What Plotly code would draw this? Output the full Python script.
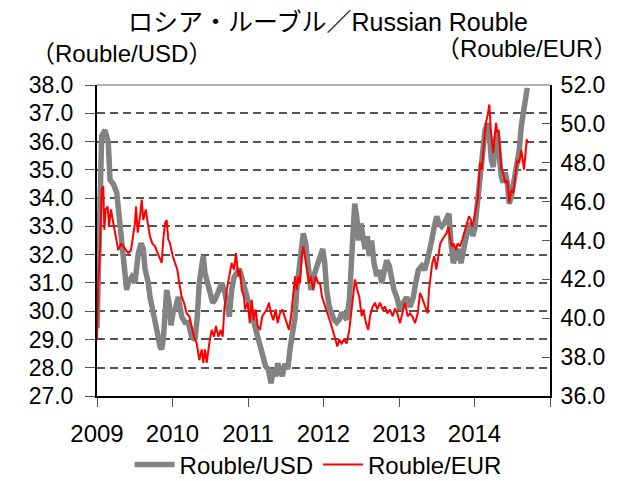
import plotly.graph_objects as go

# Rouble/USD (left axis): offset in years from 2009-01-01, value
usd_t = [0.000, 0.013, 0.040, 0.062, 0.106, 0.150, 0.172, 0.216, 0.261, 0.282,
         0.305, 0.327, 0.371, 0.393, 0.415, 0.460, 0.503, 0.526, 0.547, 0.583,
         0.613, 0.636, 0.679, 0.702, 0.746, 0.791, 0.834, 0.857, 0.878, 0.901,
         0.923, 0.954, 0.980, 1.011, 1.033, 1.077, 1.122, 1.166, 1.209, 1.254,
         1.298, 1.328, 1.355, 1.387, 1.408, 1.430, 1.461, 1.497, 1.532, 1.563,
         1.607, 1.652, 1.695, 1.726, 1.752, 1.784, 1.815, 1.850, 1.885, 1.917,
         1.947, 1.983, 2.004, 2.049, 2.093, 2.136, 2.172, 2.203, 2.234, 2.269,
         2.305, 2.335, 2.367, 2.393, 2.424, 2.454, 2.490, 2.526, 2.556, 2.587,
         2.623, 2.645, 2.675, 2.702, 2.732, 2.764, 2.799, 2.834, 2.865, 2.897,
         2.931, 2.967, 2.989, 3.016, 3.042, 3.077, 3.109, 3.139, 3.175, 3.209,
         3.241, 3.272, 3.307, 3.342, 3.368, 3.395, 3.413, 3.440, 3.466, 3.493,
         3.519, 3.550, 3.580, 3.607, 3.638, 3.669, 3.705, 3.739, 3.771, 3.801,
         3.837, 3.871, 3.903, 3.934, 3.970, 4.013, 4.057, 4.102, 4.146, 4.189,
         4.221, 4.256, 4.301, 4.335, 4.367, 4.397, 4.433, 4.468, 4.499, 4.530,
         4.566, 4.600, 4.632, 4.662, 4.689, 4.719, 4.751, 4.785, 4.821, 4.852,
         4.883, 4.918, 4.954, 4.976, 5.003, 5.029, 5.056, 5.082, 5.109, 5.139,
         5.170, 5.196, 5.223, 5.249, 5.275, 5.302, 5.328, 5.355, 5.381, 5.408,
         5.434, 5.461, 5.487, 5.514, 5.540, 5.567, 5.593, 5.620, 5.646, 5.673,
         5.699]
usd_v = [29.4, 30.8, 33.1, 36.2, 36.4, 35.95, 34.65, 34.5, 34.2, 33.7,
         33.1, 32.5, 31.5, 30.75, 31.0, 31.2, 31.0, 31.6, 32.05, 32.4,
         32.2, 31.5, 31.0, 30.5, 29.8, 29.35, 28.75, 28.65, 29.0, 30.3,
         30.75, 30.3, 29.5, 30.0, 30.05, 30.5, 29.8, 29.6, 29.6, 29.1,
         29.0, 29.8, 31.0, 31.6, 31.95, 31.35, 31.0, 30.65, 30.3, 30.4,
         30.75, 31.0, 30.65, 30.05, 29.8, 30.75, 31.2, 31.35, 31.5, 31.2,
         30.9, 30.5, 30.4, 29.8, 29.35, 28.9, 28.65, 28.3, 28.05, 27.95,
         27.45, 27.95, 27.7, 28.15, 27.95, 27.7, 28.15, 27.95, 28.65, 29.1,
         29.8, 30.75, 31.45, 32.15, 32.75, 32.4, 31.45, 30.75, 31.2, 31.45,
         31.7, 31.95, 32.2, 31.7, 30.75, 30.15, 29.95, 29.7, 29.6, 29.7,
         29.95, 29.8, 29.7, 30.4, 31.45, 33.1, 33.8, 33.35, 32.5, 33.1,
         32.65, 32.2, 32.65, 31.95, 32.5, 31.7, 31.25, 31.45, 31.0, 31.45,
         31.8, 31.6, 31.0, 30.75, 30.5, 30.05, 30.3, 30.5, 30.15, 30.5,
         31.0, 31.45, 31.6, 31.45, 31.7, 32.2, 32.5, 33.0, 33.35, 33.1,
         33.0, 33.1, 33.35, 33.45, 32.4, 31.7, 31.95, 32.2, 31.7, 32.2,
         32.65, 33.0, 33.1, 32.65, 32.9, 33.6, 34.55, 35.35, 35.7, 36.4,
         36.65, 36.3, 35.35, 35.1, 36.05, 36.3, 35.5, 34.75, 34.55, 34.9,
         34.55, 33.8, 34.05, 34.55, 34.9, 35.35, 35.7, 36.55, 37.1, 37.6,
         37.9]

# Rouble/EUR (right axis)
eur_t = [0.000, 0.017, 0.040, 0.062, 0.083, 0.097, 0.115, 0.142, 0.159, 0.185,
         0.216, 0.248, 0.282, 0.318, 0.348, 0.380, 0.415, 0.450, 0.481, 0.503,
         0.517, 0.539, 0.570, 0.592, 0.613, 0.645, 0.672, 0.702, 0.732, 0.768,
         0.804, 0.834, 0.857, 0.878, 0.901, 0.923, 0.944, 0.967, 1.003, 1.033,
         1.064, 1.090, 1.122, 1.152, 1.188, 1.223, 1.254, 1.285, 1.321, 1.355,
         1.387, 1.408, 1.430, 1.453, 1.487, 1.519, 1.550, 1.576, 1.607, 1.638,
         1.665, 1.686, 1.718, 1.752, 1.784, 1.815, 1.841, 1.871, 1.894, 1.917,
         1.947, 1.960, 1.996, 2.023, 2.049, 2.075, 2.102, 2.128, 2.159, 2.189,
         2.216, 2.248, 2.278, 2.305, 2.335, 2.367, 2.393, 2.424, 2.454, 2.481,
         2.513, 2.543, 2.570, 2.600, 2.623, 2.645, 2.666, 2.689, 2.711, 2.732,
         2.755, 2.781, 2.808, 2.834, 2.865, 2.897, 2.931, 2.954, 2.980, 3.007,
         3.033, 3.064, 3.095, 3.122, 3.152, 3.183, 3.209, 3.241, 3.272, 3.307,
         3.342, 3.374, 3.395, 3.417, 3.448, 3.474, 3.506, 3.527, 3.563, 3.593,
         3.616, 3.652, 3.682, 3.713, 3.748, 3.784, 3.815, 3.845, 3.881, 3.916,
         3.947, 3.977, 4.013, 4.044, 4.079, 4.115, 4.146, 4.176, 4.212, 4.248,
         4.278, 4.301, 4.327, 4.354, 4.380, 4.397, 4.415, 4.441, 4.468, 4.494,
         4.521, 4.547, 4.574, 4.600, 4.632, 4.653, 4.675, 4.698, 4.725, 4.751,
         4.777, 4.808, 4.838, 4.865, 4.897, 4.927, 4.954, 4.967, 4.993, 5.020,
         5.046, 5.073, 5.099, 5.126, 5.152, 5.179, 5.196, 5.215, 5.232, 5.249,
         5.268, 5.285, 5.302, 5.320, 5.338, 5.355, 5.381, 5.408, 5.434, 5.461,
         5.487, 5.514, 5.540, 5.567, 5.593, 5.620, 5.638, 5.656, 5.673, 5.692,
         5.709]
eur_v = [38.9, 41.8, 43.5, 46.6, 46.8, 44.55, 45.6, 45.75, 44.7, 45.6,
         44.9, 44.2, 43.5, 43.85, 43.7, 43.5, 43.35, 43.5, 44.2, 44.9,
         45.75, 44.4, 45.25, 46.1, 45.05, 45.6, 44.9, 44.2, 43.85, 43.7,
         43.35, 43.0, 42.85, 44.05, 44.9, 45.05, 44.05, 43.85, 43.2, 42.85,
         42.5, 41.8, 41.1, 40.8, 40.25, 40.1, 39.6, 39.05, 38.7, 37.85,
         38.4, 37.7, 38.4, 37.7, 38.7, 39.4, 39.05, 39.6, 39.05, 39.4,
         39.05, 40.45, 41.45, 42.3, 42.85, 42.5, 43.35, 42.15, 42.5, 41.45,
         41.1, 40.45, 40.8, 39.75, 40.95, 39.9, 40.45, 39.6, 39.4, 40.1,
         40.25, 40.45, 40.8, 40.25, 39.9, 40.45, 39.75, 40.25, 40.45, 40.1,
         39.75, 39.4, 40.1, 41.45, 42.15, 41.45, 42.15, 41.8, 43.2, 43.7,
         43.0, 42.5, 41.8, 42.15, 41.45, 42.15, 41.8, 41.8, 41.1, 40.8,
         40.45, 40.1, 39.75, 39.4, 38.9, 38.55, 38.9, 38.7, 38.9, 38.7,
         39.4, 40.45, 41.45, 42.0, 41.45, 41.1, 40.1, 40.45, 39.75, 39.4,
         40.1, 40.6, 40.8, 40.45, 40.8, 40.45, 40.6, 40.25, 40.45, 40.1,
         40.5, 40.25, 39.75, 40.25, 40.8, 40.1, 40.25, 40.1, 39.75, 40.25,
         41.3, 41.1, 40.8, 40.45, 40.25, 41.45, 42.15, 42.85, 43.2, 42.5,
         43.2, 43.85, 44.05, 44.2, 44.4, 44.7, 44.2, 43.7, 43.85, 43.5,
         43.85, 43.7, 44.05, 44.4, 44.9, 45.25, 45.05, 44.7, 45.05, 45.6,
         46.25, 48.0, 47.65, 49.0, 50.05, 50.55, 51.0, 49.7, 48.85, 48.5,
         49.35, 50.05, 49.55, 49.7, 48.65, 47.65, 47.45, 46.95, 47.1, 45.95,
         46.6, 46.45, 47.3, 48.15, 48.0, 48.65, 48.15, 47.65, 48.35, 49.2,
         49.0]

years = [2009, 2010, 2011, 2012, 2013, 2014, 2015]
year_labels = ["2009", "2010", "2011", "2012", "2013", "2014", ""]
base_year = 2009

FONT = "Liberation Sans, Arial, Noto Sans CJK JP, sans-serif"

fig = go.Figure()
fig.add_trace(go.Scatter(
    x=[base_year + t for t in usd_t], y=usd_v, mode="lines", name="Rouble/USD",
    line=dict(color="#838383", width=5.5), yaxis="y"))
fig.add_trace(go.Scatter(
    x=[base_year + t for t in eur_t], y=eur_v, mode="lines", name="Rouble/EUR",
    line=dict(color="#FF0000", width=2), yaxis="y2"))

# the page body adds an 8px offset at top-left, so the figure is 8px smaller
fig.update_layout(
    width=629, height=473,
    margin=dict(l=89, r=87, t=77, b=85, autoexpand=False),
    paper_bgcolor="white", plot_bgcolor="white",
    font=dict(family=FONT, color="black", size=23),
    showlegend=True,
    legend=dict(orientation="h", xref="container", yref="container",
                x=0.493, xanchor="center", y=0.034, yanchor="middle",
                font=dict(size=24), bgcolor="rgba(0,0,0,0)", itemwidth=40,
                tracegroupgap=0),
    xaxis=dict(range=[2009, 2015], tickmode="array", tickvals=years, ticktext=year_labels,
               ticks="outside", ticklen=9, tickcolor="#555", tickwidth=1,
               ticklabelstandoff=6, automargin=False,
               showline=True, linecolor="black", linewidth=2,
               showgrid=False, zeroline=False, tickfont=dict(size=24)),
    yaxis=dict(range=[27, 38], dtick=1, tickformat=".1f", automargin=False,
               showgrid=True, gridcolor="#555", griddash="8px,5px", gridwidth=1.5,
               showline=True, linecolor="black", linewidth=2,
               ticks="outside", ticklen=10, tickcolor="#555",
               ticklabelstandoff=7,
               zeroline=False, tickfont=dict(size=23)),
    yaxis2=dict(range=[36, 52], dtick=2, tickformat=".1f", overlaying="y", side="right",
                automargin=False,
                showgrid=False, showline=True, linecolor="black", linewidth=2,
                ticks="inside", ticklen=8, tickcolor="#555", ticklabelstandoff=4,
                zeroline=False, tickfont=dict(size=23)),
    shapes=[dict(type="line", xref="paper", yref="paper", x0=0, x1=1, y0=1, y1=1,
                 line=dict(color="#999", width=1.5))],
    annotations=[
        dict(text="ロシア・ルーブル／Russian Rouble", xref="paper", yref="paper",
             x=0.51, y=1.203, xanchor="center", yanchor="middle", showarrow=False,
             borderpad=0, font=dict(size=25)),
        dict(text="（Rouble/USD）", xref="paper", yref="paper",
             x=0.055, y=1.10, xanchor="center", yanchor="middle", showarrow=False,
             borderpad=0, font=dict(size=24)),
        dict(text="（Rouble/EUR）", xref="paper", yref="paper",
             x=0.949, y=1.118, xanchor="center", yanchor="middle", showarrow=False,
             borderpad=0, font=dict(size=24)),
    ],
)

fig.write_html("out.html")
